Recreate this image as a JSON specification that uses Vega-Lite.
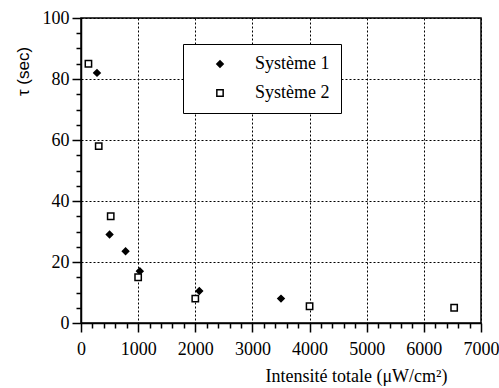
{
  "$schema": "https://vega.github.io/schema/vega-lite/v6.json",
  "autosize": {"type": "none"},
  "padding": {"left": 81, "top": 18, "right": 18, "bottom": 65},
  "width": 400,
  "height": 305,
  "background": "white",
  "config": {
    "view": {"stroke": "black", "strokeWidth": 1.5},
    "font": "Liberation Serif"
  },
  "data": {
    "values": [
      {"intensite": 280, "tau": 82, "serie": "Système 1"},
      {"intensite": 500, "tau": 29, "serie": "Système 1"},
      {"intensite": 780, "tau": 23.5, "serie": "Système 1"},
      {"intensite": 1030, "tau": 17, "serie": "Système 1"},
      {"intensite": 2070, "tau": 10.5, "serie": "Système 1"},
      {"intensite": 3500, "tau": 8, "serie": "Système 1"},
      {"intensite": 130, "tau": 85, "serie": "Système 2"},
      {"intensite": 310, "tau": 58, "serie": "Système 2"},
      {"intensite": 520, "tau": 35, "serie": "Système 2"},
      {"intensite": 1000, "tau": 15, "serie": "Système 2"},
      {"intensite": 2000, "tau": 8, "serie": "Système 2"},
      {"intensite": 4000, "tau": 5.5, "serie": "Système 2"},
      {"intensite": 6530, "tau": 5, "serie": "Système 2"}
    ]
  },
  "resolve": {"axis": {"x": "independent", "y": "independent"}},
  "layer": [
    {
      "mark": {"type": "point", "opacity": 0},
      "encoding": {
        "x": {
          "field": "intensite",
          "type": "quantitative",
          "scale": {"domain": [0, 7000], "nice": false, "zero": false},
          "axis": {
            "orient": "bottom",
            "title": null,
            "values": [200,400,600,800,1200,1400,1600,1800,2200,2400,2600,2800,3200,3400,3600,3800,4200,4400,4600,4800,5200,5400,5600,5800,6200,6400,6600,6800],
            "labels": false,
            "grid": false,
            "domain": false,
            "ticks": true,
            "tickColor": "black",
            "tickWidth": 1.5,
            "tickSize": 5
          }
        },
        "y": {
          "field": "tau",
          "type": "quantitative",
          "scale": {"domain": [0, 100], "nice": false, "zero": false},
          "axis": {
            "orient": "left",
            "title": null,
            "values": [5,10,15,25,30,35,45,50,55,65,70,75,85,90,95],
            "labels": false,
            "grid": false,
            "domain": false,
            "ticks": true,
            "tickColor": "black",
            "tickWidth": 1.5,
            "tickSize": 5
          }
        }
      }
    },
    {
      "mark": {"type": "point", "stroke": "black", "strokeWidth": 1.5, "opacity": 1},
      "encoding": {
        "x": {
          "field": "intensite",
          "type": "quantitative",
          "axis": {
            "orient": "bottom",
            "title": "Intensité totale (μW/cm²)",
            "titleFont": "Liberation Serif",
            "titleFontSize": 18,
            "titleFontWeight": "normal",
            "titleColor": "black",
            "titleX": 275,
            "titleY": 58,
            "titleAlign": "center",
            "titleBaseline": "alphabetic",
            "values": [0,1000,2000,3000,4000,5000,6000,7000],
            "format": "d",
            "labelFont": "Liberation Serif",
            "labelFontSize": 18,
            "labelColor": "black",
            "labelPadding": 8,
            "domainColor": "black",
            "domainWidth": 1.5,
            "ticks": true,
            "tickColor": "black",
            "tickWidth": 1.5,
            "tickSize": 9,
            "grid": true,
            "gridColor": "black",
            "gridDash": [2, 2],
            "gridWidth": 1,
            "labelOverlap": false,
            "labelFlush": false
          }
        },
        "y": {
          "field": "tau",
          "type": "quantitative",
          "axis": {
            "orient": "left",
            "title": "τ (sec)",
            "titleFont": "Liberation Sans",
            "titleFontSize": 17,
            "titleFontWeight": "normal",
            "titleColor": "black",
            "titleAngle": -90,
            "titleX": -58,
            "titleY": 53,
            "titleAlign": "center",
            "titleBaseline": "middle",
            "values": [0,20,40,60,80,100],
            "labelFont": "Liberation Serif",
            "labelFontSize": 18,
            "labelColor": "black",
            "labelPadding": 3,
            "domainColor": "black",
            "domainWidth": 1.5,
            "ticks": true,
            "tickColor": "black",
            "tickWidth": 1.5,
            "tickSize": 9,
            "grid": true,
            "gridColor": "black",
            "gridDash": [2, 2],
            "gridWidth": 1,
            "labelOverlap": false,
            "labelFlush": false
          }
        },
        "shape": {
          "field": "serie",
          "type": "nominal",
          "scale": {"domain": ["Système 1", "Système 2"], "range": ["diamond", "square"]},
          "legend": {
            "title": null,
            "orient": "none",
            "legendX": 102,
            "legendY": 26,
            "strokeColor": "black",
            "fillColor": "white",
            "padding": 11,
            "symbolOffset": 17,
            "symbolSize": 40,
            "labelOffset": 26,
            "rowPadding": 11,
            "labelFont": "Liberation Serif",
            "labelFontSize": 18,
            "labelColor": "black",
            "encode": {
              "symbols": {"update": {"stroke": {"value": "black"}, "strokeWidth": {"value": 1.5}}}
            }
          }
        },
        "fill": {
          "field": "serie",
          "type": "nominal",
          "scale": {"domain": ["Système 1", "Système 2"], "range": ["black", "white"]},
          "legend": null
        },
        "size": {"value": 40}
      }
    }
  ]
}
